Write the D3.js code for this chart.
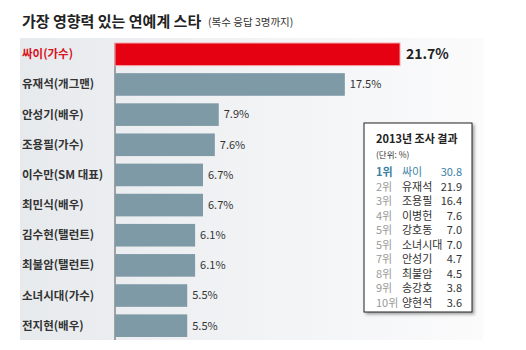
<!DOCTYPE html>
<html>
<head>
<meta charset="utf-8">
<script src="https://cdn.jsdelivr.net/npm/d3@7"></script>
<style>
  body { margin: 0; background: #fff; }
  text { font-family: "Noto Sans CJK KR", "Noto Sans", sans-serif; }
</style>
</head>
<body>
<div id="chart"></div>
<script>
// chart data
const names = ['싸이(가수)', '유재석(개그맨)', '안성기(배우)', '조용필(가수)', '이수만(SM 대표)',
               '최민식(배우)', '김수현(탤런트)', '최불암(탤런트)', '소녀시대(가수)', '전지현(배우)'];
const values = [21.7, 17.5, 7.9, 7.6, 6.7, 6.7, 6.1, 6.1, 5.5, 5.5];
const valueLabels = ['21.7%', '17.5%', '7.9%', '7.6%', '6.7%', '6.7%', '6.1%', '6.1%', '5.5%', '5.5%'];

// 2013 box
const ranks2013 = ['1위', '2위', '3위', '4위', '5위', '5위', '7위', '8위', '9위', '10위'];
const names2013 = ['싸이', '유재석', '조용필', '이병헌', '강호동', '소녀시대', '안성기', '최불암', '송강호', '양현석'];
const values2013 = ['30.8', '21.9', '16.4', '7.6', '7.0', '7.0', '4.7', '4.5', '3.8', '3.6'];

const w = 526;
const h = 350;

const svg = d3.select('#chart')
              .append('svg')
              .attr('width', w)
              .attr('height', h);

const defs = svg.append('defs');
const grad = defs.append('linearGradient')
                 .attr('id', 'bg')
                 .attr('x1', 0).attr('x2', 1).attr('y1', 0).attr('y2', 0);
grad.append('stop').attr('offset', '0%').attr('stop-color', '#e7eaed');
grad.append('stop').attr('offset', '100%').attr('stop-color', '#fbfbfc');

const shadow = defs.append('filter').attr('id', 'shadow')
                   .attr('x', '-10%').attr('y', '-10%').attr('width', '130%').attr('height', '130%');
shadow.append('feDropShadow')
      .attr('dx', 2).attr('dy', 2).attr('stdDeviation', 1.5)
      .attr('flood-color', '#000').attr('flood-opacity', 0.35);

// background panel
svg.append('rect')
   .attr('x', 20).attr('y', 38)
   .attr('width', 463).attr('height', 302)
   .attr('fill', 'url(#bg)');

// title
svg.append('text')
   .attr('x', 22).attr('y', 27)
   .style('font-size', '15px')
   .style('font-weight', 'bold')
   .attr('fill', '#222')
   .text('가장 영향력 있는 연예계 스타');

svg.append('text')
   .attr('x', 208).attr('y', 26)
   .style('font-size', '10.5px')
   .attr('fill', '#333')
   .text('(복수 응답 3명까지)');

const x0 = 115;
const xScale = d3.scaleLinear()
                 .domain([0, 21.7])
                 .range([x0, 400]);

const yScale = d3.scaleBand()
                 .domain(names)
                 .range([40, 340])
                 .paddingInner(0.25)
                 .paddingOuter(0.1);

// axis line
svg.append('line')
   .attr('x1', x0).attr('x2', x0)
   .attr('y1', yScale(names[0])).attr('y2', 340)
   .attr('stroke', '#555')
   .attr('stroke-width', 1);

// bars
svg.selectAll('.bar')
   .data(values)
   .enter()
   .append('rect')
   .attr('class', 'bar')
   .attr('x', x0)
   .attr('y', (d, i) => yScale(names[i]))
   .attr('width', (d) => xScale(d) - x0)
   .attr('height', yScale.bandwidth())
   .attr('fill', (d, i) => i === 0 ? '#e50012' : '#7f9aa7')
   .attr('stroke', (d, i) => i === 0 ? '#f5a3a8' : 'none')
   .attr('stroke-width', 1);

// category labels
svg.selectAll('.name')
   .data(names)
   .enter()
   .append('text')
   .attr('class', 'name')
   .attr('x', 22)
   .attr('y', (d) => yScale(d) + yScale.bandwidth() / 2)
   .attr('dy', '0.35em')
   .style('font-size', '11.5px')
   .style('font-weight', 'bold')
   .attr('fill', (d, i) => i === 0 ? '#d7141e' : '#333')
   .text((d) => d);

// value labels
svg.selectAll('.val')
   .data(values)
   .enter()
   .append('text')
   .attr('class', 'val')
   .attr('x', (d, i) => xScale(d) + (i === 0 ? 6 : 5))
   .attr('y', (d, i) => yScale(names[i]) + yScale.bandwidth() / 2)
   .attr('dy', '0.35em')
   .style('font-size', (d, i) => i === 0 ? '14px' : '11px')
   .style('font-weight', (d, i) => i === 0 ? 'bold' : 'normal')
   .attr('fill', (d, i) => i === 0 ? '#222' : '#333')
   .text((d, i) => valueLabels[i]);

// 2013 box
const box = svg.append('g').attr('transform', 'translate(364,123)');
box.append('rect')
   .attr('width', 108).attr('height', 189)
   .attr('fill', '#fff')
   .attr('stroke', '#222')
   .attr('stroke-width', 1)
   .attr('filter', 'url(#shadow)');

box.append('text')
   .attr('x', 12).attr('y', 20)
   .style('font-size', '11px')
   .style('font-weight', 'bold')
   .attr('fill', '#222')
   .text('2013년 조사 결과');

box.append('text')
   .attr('x', 12).attr('y', 35)
   .style('font-size', '8.5px')
   .attr('fill', '#333')
   .text('(단위: %)');

const rowY = d3.scaleLinear().domain([0, 9]).range([53, 184]);
const teal = '#3d7fa3';

box.selectAll('.rank')
   .data(ranks2013)
   .enter()
   .append('text')
   .attr('x', 12)
   .attr('y', (d, i) => rowY(i))
   .style('font-size', '11px')
   .style('font-weight', (d, i) => i === 0 ? 'bold' : 'normal')
   .attr('fill', (d, i) => i === 0 ? teal : '#999')
   .text((d) => d);

box.selectAll('.n13')
   .data(names2013)
   .enter()
   .append('text')
   .attr('x', 38)
   .attr('y', (d, i) => rowY(i))
   .style('font-size', '11px')
   .attr('fill', (d, i) => i === 0 ? teal : '#333')
   .text((d) => d);

box.selectAll('.v13')
   .data(values2013)
   .enter()
   .append('text')
   .attr('x', 98)
   .attr('y', (d, i) => rowY(i))
   .attr('text-anchor', 'end')
   .style('font-size', '11px')
   .attr('fill', (d, i) => i === 0 ? teal : '#333')
   .text((d) => d);
</script>
</body>
</html>
